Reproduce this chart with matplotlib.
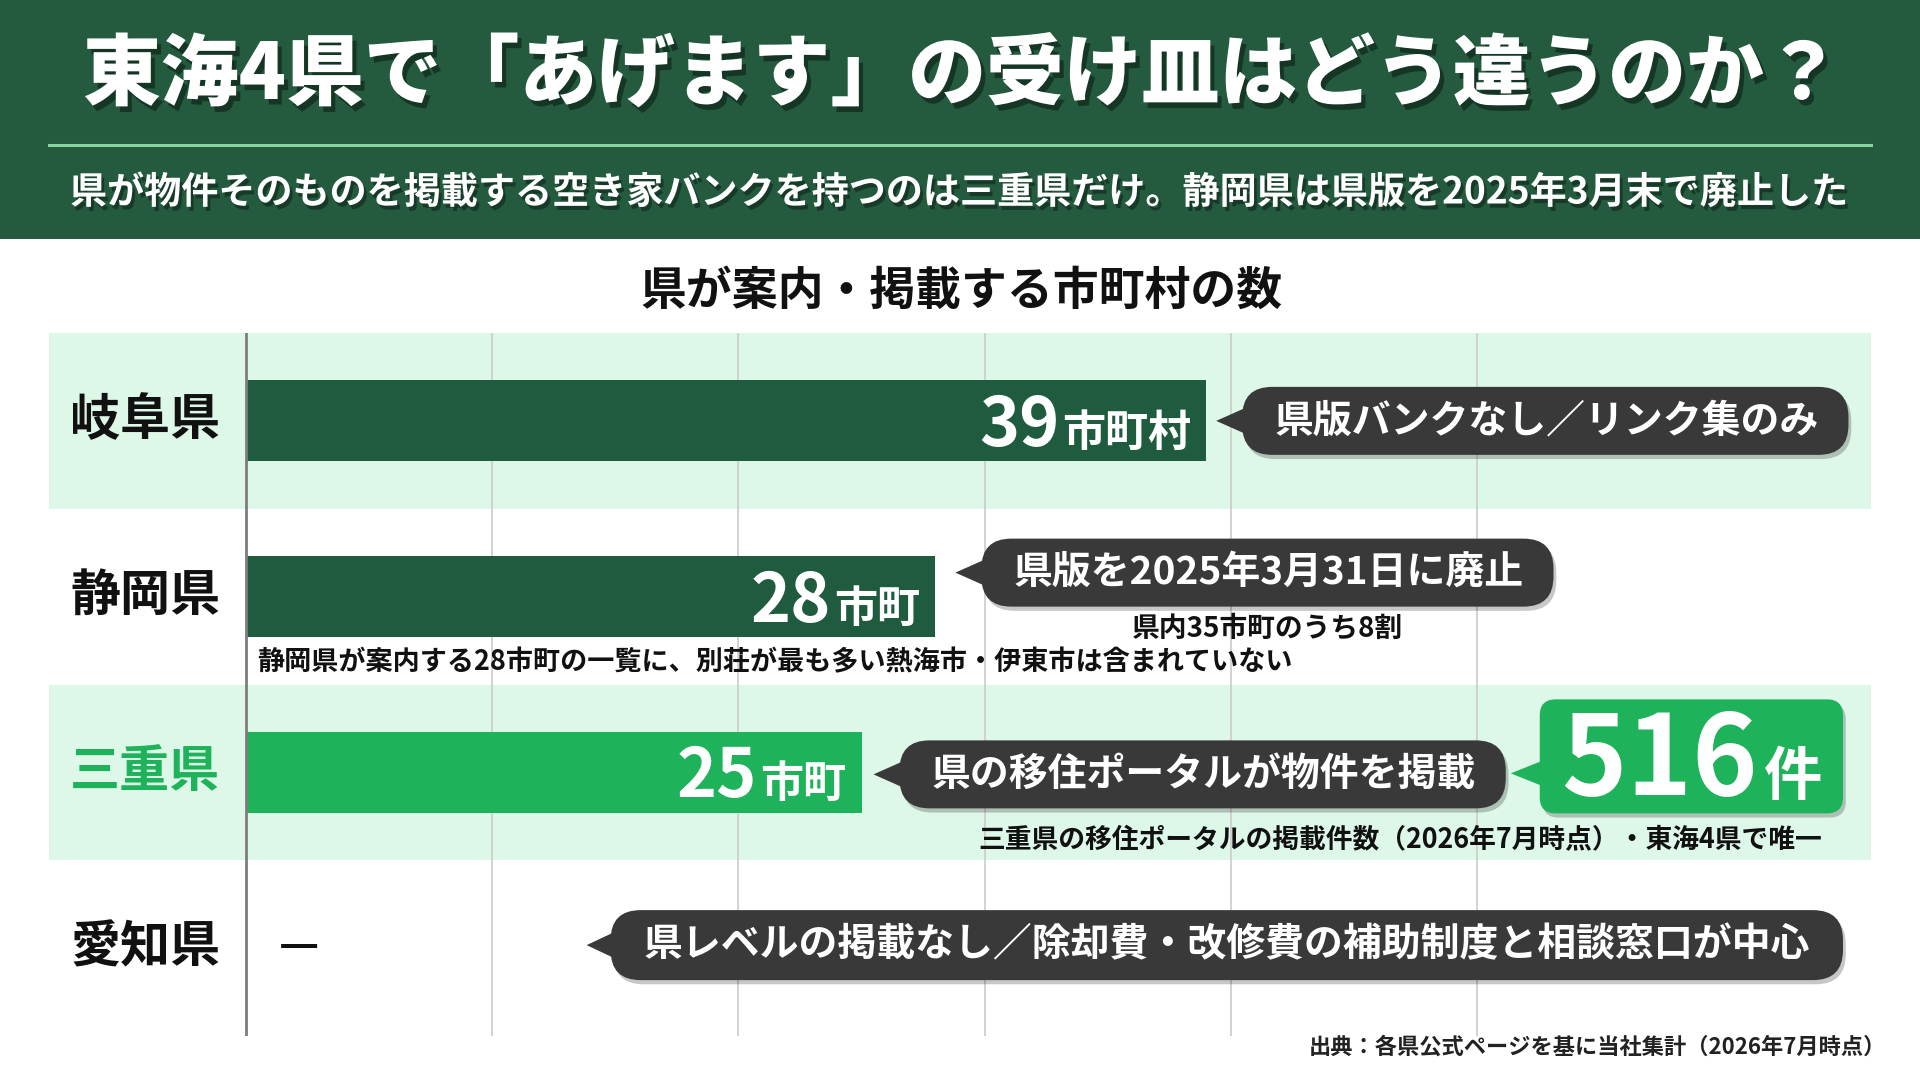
import matplotlib
matplotlib.use('Agg')
import matplotlib.pyplot as plt
import matplotlib.patheffects as pe
from matplotlib.patches import FancyBboxPatch, Polygon, Rectangle

plt.rcParams['font.family'] = ['Noto Sans CJK JP', 'DejaVu Sans']

# data
prefs = ['岐阜県', '静岡県', '三重県', '愛知県']
counts = [39, 28, 25, None]
units = ['市町村', '市町', '市町', '']
notes = ['県版バンクなし／リンク集のみ',
         '県版を2025年3月31日に廃止',
         '県の移住ポータルが物件を掲載',
         '県レベルの掲載なし／除却費・改修費の補助制度と相談窓口が中心']
mie_listings = 516
mie_unit = '件'
grid_ticks = [10, 20, 30, 40, 50]

title = '東海4県で「あげます」の受け皿はどう違うのか？'
subtitle = '県が物件そのものを掲載する空き家バンクを持つのは三重県だけ。静岡県は県版を2025年3月末で廃止した'
chart_title = '県が案内・掲載する市町村の数'
note_shizuoka_a = '県内35市町のうち8割'
note_shizuoka_b = '静岡県が案内する28市町の一覧に、別荘が最も多い熱海市・伊東市は含まれていない'
note_mie = '三重県の移住ポータルの掲載件数（2026年7月時点）・東海4県で唯一'
source = '出典：各県公式ページを基に当社集計（2026年7月時点）'

DARK = '#1f5b3e'
HEADER = '#245a3e'
GREEN = '#1eb35a'
BAND = '#ddf7e9'
BUBBLE = '#3a3939'
bar_colors = [DARK, DARK, GREEN, DARK]
label_colors = ['#111111', '#111111', GREEN, '#111111']

W, H = 1920, 1072
fig = plt.figure(figsize=(W / 100, H / 100), dpi=100)
fig.patch.set_facecolor('white')

# main chart
ax = fig.add_axes([49 / W, (H - 1036) / H, 1822 / W, 703 / H])
ax.set_xlim(-8, 66)
ax.set_ylim(3.5, -0.5)
ax.axis('off')

for i in range(len(prefs)):
    if i % 2 == 0:
        ax.axhspan(i - 0.5, i + 0.5, color=BAND, zorder=0, lw=0)
for g in grid_ticks:
    ax.axvline(g, color='#cfcfcf', lw=1.3, zorder=1)
ax.axvline(0, color='#7d7d7d', lw=2, zorder=3)

for i, v in enumerate(counts):
    if v is None:
        continue
    ax.barh(i, v, height=0.46, color=bar_colors[i], zorder=2)

for i, p in enumerate(prefs):
    ax.text(-1.05, i, p, ha='right', va='center', fontsize=36,
            weight='bold', color=label_colors[i])

# overlay in pixel units
ov = fig.add_axes([0, 0, 1, 1], zorder=5)
ov.set_xlim(0, W)
ov.set_ylim(H, 0)
ov.axis('off')
renderer = fig.canvas.get_renderer()
inv = ov.transData.inverted()


def to_ov(x, y):
    return inv.transform(ax.transData.transform((x, y)))


def extent(t):
    bb = t.get_window_extent(renderer)
    (x0, y0), (x1, y1) = inv.transform([[bb.x0, bb.y0], [bb.x1, bb.y1]])
    return x0, x1


shadow = [pe.withSimplePatchShadow(offset=(2, -3), shadow_rgbFace='black', alpha=0.22)]


def bubble(tip_x, cy, text, right=None, h=68):
    if right is None:
        left = tip_x + 26
        t = ov.text(left + 32, cy, text, ha='left', va='center', fontsize=28,
                    weight='bold', color='white', zorder=8)
        x0, x1 = extent(t)
        right = x1 + 30
    else:
        t = ov.text(right - 33, cy, text, ha='right', va='center', fontsize=28,
                    weight='bold', color='white', zorder=8)
        x0, x1 = extent(t)
        left = x0 - 33
        tip_x = left - 24
    box = FancyBboxPatch((left, cy - h / 2), right - left, h,
                         boxstyle='round,pad=0,rounding_size=30',
                         fc=BUBBLE, ec='none', zorder=6, path_effects=shadow)
    tri = Polygon([(tip_x, cy), (left + 10, cy - 16), (left + 10, cy + 16)],
                  closed=True, fc=BUBBLE, ec='none', zorder=6)
    ov.add_patch(box)
    ov.add_patch(tri)
    return left, right


# header
ov.add_patch(Rectangle((0, 0), W, 239, fc=HEADER, ec='none', zorder=1))
ov.plot([49, 1871], [145, 145], color='#86d3a0', lw=2.2, zorder=2)
ov.text(962, 76, title, ha='center', va='center', fontsize=56, weight='black',
        color='white', zorder=3,
        path_effects=[pe.withSimplePatchShadow(offset=(3, -4), shadow_rgbFace='black', alpha=0.4)])
ov.text(960, 193, subtitle, ha='center', va='center', fontsize=26.7, weight='bold',
        color='white', zorder=3,
        path_effects=[pe.withSimplePatchShadow(offset=(2, -3), shadow_rgbFace='black', alpha=0.35)])
ov.text(961, 292, chart_title, ha='center', va='center', fontsize=33,
        weight='bold', color='#111111')

# value labels inside bars
for i, v in enumerate(counts):
    if v is None:
        continue
    ex, ey = to_ov(v, i)
    u = ov.text(ex - 15, ey + 25, units[i], ha='right', va='baseline',
                fontsize=31, weight='bold', color='white', zorder=7)
    ux0, ux1 = extent(u)
    ov.text(ux0 - 3, ey + 25, str(v), ha='right', va='baseline',
            fontsize=49, weight='bold', color='white', zorder=7)

# callouts
ex, ey = to_ov(counts[0], 0)
bubble(ex + 10, ey, notes[0])

ex, ey = to_ov(counts[1], 1)
l, r = bubble(ex + 20, ey - 24, notes[1])
ov.text((l + r) / 2, ey + 32, note_shizuoka_a, ha='center', va='center',
        fontsize=20, weight='bold', color='#111111')
nx, ny = to_ov(0, 1)
ov.text(nx + 11, ny + 66, note_shizuoka_b, ha='left', va='center',
        fontsize=19.5, weight='bold', color='#111111')

ex, ey = to_ov(counts[2], 2)
l, r = bubble(ex + 12, ey + 2, notes[2])
gtip = r + 5
gl, gr = gtip + 29, 1843
gt, gb = ey - 73, ey + 41
ov.add_patch(FancyBboxPatch((gl, gt), gr - gl, gb - gt,
                            boxstyle='round,pad=0,rounding_size=16',
                            fc=GREEN, ec='none', zorder=6, path_effects=shadow))
ov.add_patch(Polygon([(gtip, ey + 1), (gl + 6, ey - 13), (gl + 6, ey + 15)],
                     closed=True, fc=GREEN, ec='none', zorder=6))
n = ov.text(0, ey + 23, str(mie_listings), ha='left', va='baseline', fontsize=80,
            weight='bold', color='white', zorder=7)
k = ov.text(0, ey + 23, mie_unit, ha='left', va='baseline', fontsize=42,
            weight='bold', color='white', zorder=7)
nw = extent(n)[1] - extent(n)[0]
kw = extent(k)[1] - extent(k)[0]
start = (gl + gr) / 2 - (nw + 6 + kw) / 2
n.set_x(start)
k.set_x(start + nw + 6)
ov.text(gr - 21, ey + 67, note_mie, ha='right', va='center', fontsize=19.3,
        weight='bold', color='#111111')

dx, dy = to_ov(0, 3)
ov.text(dx + 33, dy - 2, '—', ha='left', va='center', fontsize=32,
        weight='bold', color='#111111')
bubble(None, dy - 3, notes[3], right=1843, h=70)

ov.text(1886, 1047, source, ha='right', va='center', fontsize=16,
        weight='bold', color='#222222')

fig.savefig('out.png', dpi=100, facecolor='white')
